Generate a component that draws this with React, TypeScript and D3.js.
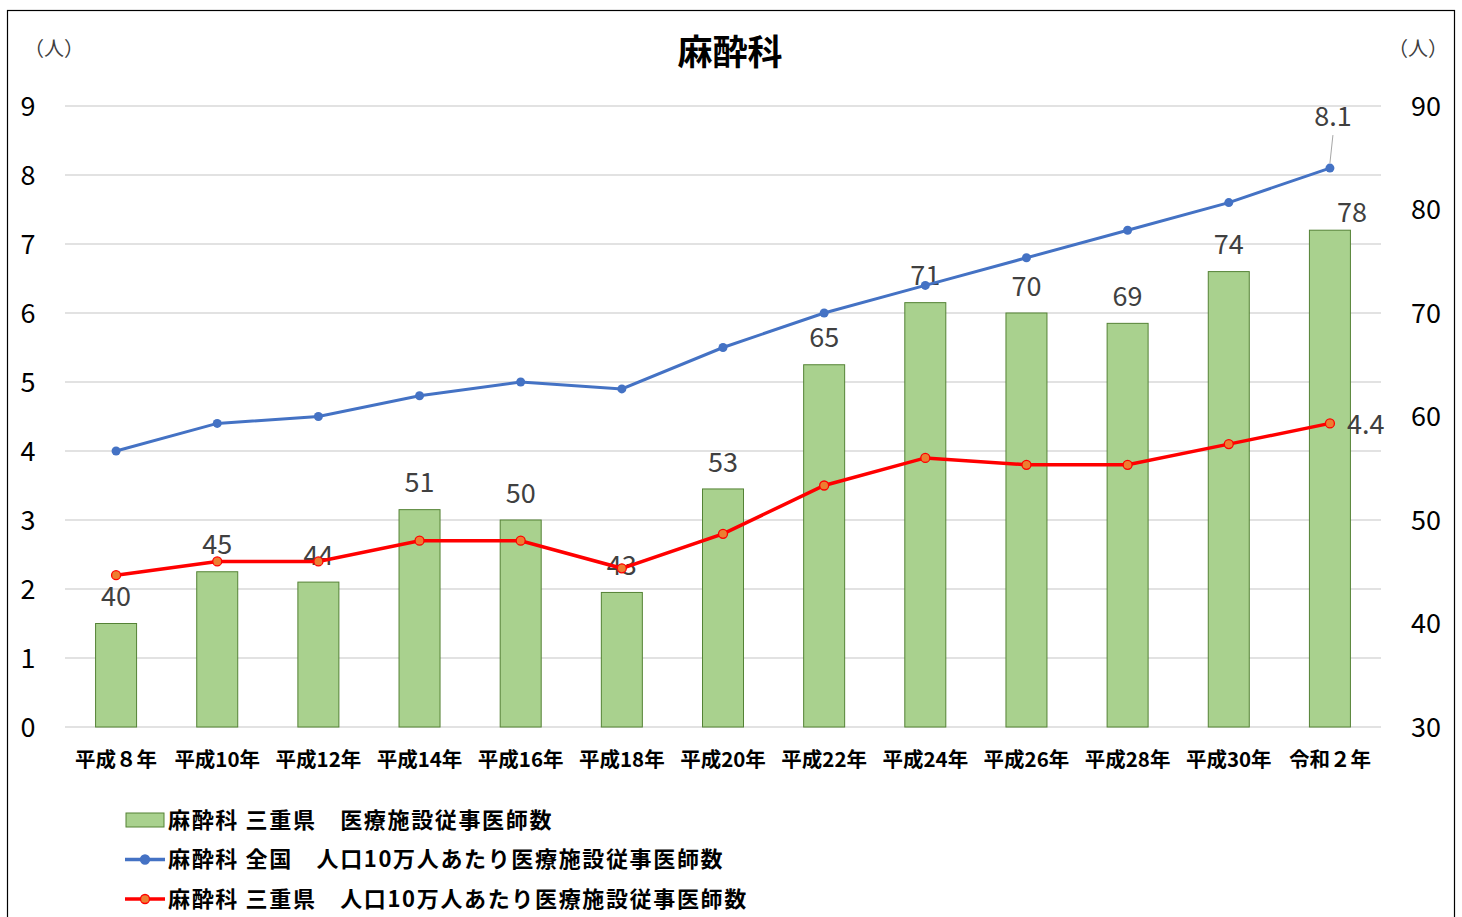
import React from "react";
import * as d3 from "d3";

const categories = ["平成８年", "平成10年", "平成12年", "平成14年", "平成16年", "平成18年", "平成20年", "平成22年", "平成24年", "平成26年", "平成28年", "平成30年", "令和２年"];
const barValues = [40, 45, 44, 51, 50, 43, 53, 65, 71, 70, 69, 74, 78];
const nationalRate = [4.0, 4.4, 4.5, 4.8, 5.0, 4.9, 5.5, 6.0, 6.4, 6.8, 7.2, 7.6, 8.1];
const mieRate = [2.2, 2.4, 2.4, 2.7, 2.7, 2.3, 2.8, 3.5, 3.9, 3.8, 3.8, 4.1, 4.4];
const leftTicks = [0, 1, 2, 3, 4, 5, 6, 7, 8, 9];
const rightTicks = [30, 40, 50, 60, 70, 80, 90];
const legendLabels = [
  "麻酔科 三重県　医療施設従事医師数",
  "麻酔科 全国　人口10万人あたり医療施設従事医師数",
  "麻酔科 三重県　人口10万人あたり医療施設従事医師数",
];

const W = 1462, H = 917;
const FONT = "'Noto Sans CJK JP', 'Noto Sans', sans-serif";

export default function App() {
  const x = d3.scaleBand<string>().domain(categories).range([65.5, 1380.5]).paddingInner(0.6).paddingOuter(0.3);
  const cx = (c: string) => (x(c) as number) + x.bandwidth() / 2;
  const yL = d3.scaleLinear().domain([0, 9]).range([727, 106]);
  const yR = d3.scaleLinear().domain([30, 90]).range([727, 106]);
  const bw = 41;
  const line = d3.line<number>().x((_, i) => cx(categories[i])).y((d) => yL(d));
  const n = categories.length;
  const lastX = cx(categories[n - 1]);

  return (
    <svg width={W} height={H} style={{ position: "absolute", left: 0, top: 0 }} fontFamily={FONT}>
      <rect x={0} y={0} width={W} height={H} fill="#fff" />
      <rect x={7.5} y={10.5} width={1447} height={920} fill="none" stroke="#000" strokeWidth={1.2} />
      <text x={730} y={65} textAnchor="middle" fontSize={35} fontWeight="bold" fill="#000">麻酔科</text>
      <text x={54} y={56} textAnchor="middle" fontSize={20} fill="#404040">（人）</text>
      <text x={1418} y={56} textAnchor="middle" fontSize={20} fill="#404040">（人）</text>

      {leftTicks.map((t) => (
        <g key={"g" + t}>
          <line x1={65} x2={1381} y1={yL(t)} y2={yL(t)} stroke="#d9d9d9" strokeWidth={1.3} />
          <text x={28} y={yL(t)} dy="0.36em" textAnchor="middle" fontSize={27} fill="#000">{t}</text>
        </g>
      ))}
      {rightTicks.map((t) => (
        <text key={"r" + t} x={1426} y={yR(t)} dy="0.36em" textAnchor="middle" fontSize={27} fill="#000">{t}</text>
      ))}

      {categories.map((c, i) => {
        const last = i === n - 1;
        return (
          <g key={c}>
            <rect x={cx(c) - bw / 2} y={yR(barValues[i])} width={bw} height={yR(30) - yR(barValues[i])} fill="#a9d18e" stroke="#548235" strokeWidth={1} />
            <text x={cx(c) + (last ? 22 : 0)} y={yR(barValues[i]) - (last ? 18 : 27)} dy="0.36em" textAnchor="middle" fontSize={27} fill="#404040">{barValues[i]}</text>
            <text x={cx(c)} y={760} dy="0.36em" textAnchor="middle" fontSize={20.5} fontWeight="bold" fill="#000">{c}</text>
          </g>
        );
      })}

      <path d={line(nationalRate) as string} fill="none" stroke="#4472c4" strokeWidth={3} />
      {nationalRate.map((v, i) => (
        <circle key={"n" + i} cx={cx(categories[i])} cy={yL(v)} r={4.5} fill="#4472c4" />
      ))}
      <path d={line(mieRate) as string} fill="none" stroke="#ff0000" strokeWidth={3.5} />
      {mieRate.map((v, i) => (
        <circle key={"m" + i} cx={cx(categories[i])} cy={yL(v)} r={4.5} fill="#ed7d31" stroke="#ff0000" strokeWidth={1.3} />
      ))}

      <line x1={lastX} y1={yL(nationalRate[n - 1]) - 5} x2={lastX + 3} y2={yL(nationalRate[n - 1]) - 33} stroke="#a6a6a6" strokeWidth={1} />
      <text x={lastX + 3} y={yL(nationalRate[n - 1]) - 52} dy="0.36em" textAnchor="middle" fontSize={27} fill="#404040">{nationalRate[n - 1]}</text>
      <text x={lastX + 17} y={yL(mieRate[n - 1]) + 1} dy="0.36em" textAnchor="start" fontSize={27} fill="#404040">{mieRate[n - 1]}</text>

      {legendLabels.map((l, i) => {
        const y = 820 + i * 39.5;
        return (
          <g key={l}>
            {i === 0 ? (
              <rect x={126} y={y - 7} width={38} height={14} fill="#a9d18e" stroke="#548235" strokeWidth={1} />
            ) : (
              <g>
                <line x1={125} x2={165} y1={y} y2={y} stroke={i === 1 ? "#4472c4" : "#ff0000"} strokeWidth={3.5} />
                <circle cx={145} cy={y} r={4.5} fill={i === 1 ? "#4472c4" : "#ed7d31"} stroke={i === 1 ? "#4472c4" : "#ff0000"} strokeWidth={1.3} />
              </g>
            )}
            <text x={168} y={y} dy="0.36em" fontSize={22} letterSpacing={1.65} fontWeight="bold" fill="#000">{l}</text>
          </g>
        );
      })}
    </svg>
  );
}
